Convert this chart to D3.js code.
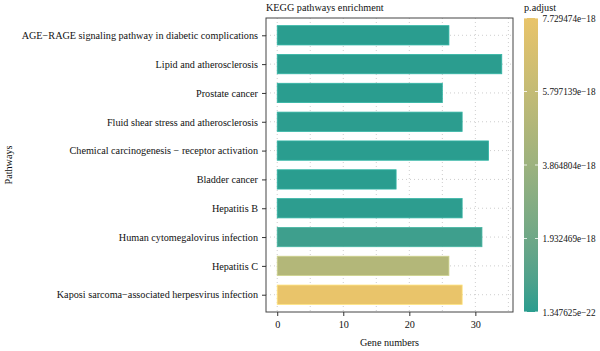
<!DOCTYPE html>
<html>

<head>
    <meta charset=utf-8 />
    <script src="https://cdn.jsdelivr.net/npm/d3@7"></script>
    <title>KEGG pathways enrichment</title>
    <style>
        html,
        body {
            margin: 0;
            background: #fff;
        }

        svg,
        svg text {
            font-family: "Liberation Serif", "Times New Roman", Times, serif;
        }
    </style>
</head>

<body>
    <div id="chart"></div>
    <script>
        var pathways = [
            'AGE\u2212RAGE signaling pathway in diabetic complications',
            'Lipid and atherosclerosis',
            'Prostate cancer',
            'Fluid shear stress and atherosclerosis',
            'Chemical carcinogenesis \u2212 receptor activation',
            'Bladder cancer',
            'Hepatitis B',
            'Human cytomegalovirus infection',
            'Hepatitis C',
            'Kaposi sarcoma\u2212associated herpesvirus infection'
        ];
        var geneCounts = [26, 34, 25, 28, 32, 18, 28, 31, 26, 28];
        var pAdjust = [1.4e-22, 2.0e-20, 8.0e-21, 3.0e-20, 1.347625e-22, 5.0e-21, 6.0e-20, 4.0e-19, 5.0e-18, 7.729474e-18];
        var xTicks = [0, 10, 20, 30];
        var xMinor = [5, 15, 25, 35];
        var legendTicks = [1.347625e-22, 1.932469e-18, 3.864804e-18, 5.797139e-18, 7.729474e-18];
        var legendLabels = ['1.347625e\u221222', '1.932469e\u221218', '3.864804e\u221218', '5.797139e\u221218', '7.729474e\u221218'];

        var W = 600, H = 351;
        var panel = { left: 266, right: 513, top: 18, bottom: 312 };
        var fs = '10.2px';
        var ink = '#111';

        var svg = d3.select('#chart').append('svg')
            .attr('width', W)
            .attr('height', H);

        var maxCount = d3.max(geneCounts);
        var pad = maxCount * 0.05;
        var x = d3.scaleLinear()
            .domain([-pad, maxCount + pad])
            .range([panel.left, panel.right]);

        var y = d3.scalePoint()
            .domain(pathways)
            .range([panel.top, panel.bottom])
            .padding(0.6);
        var step = y.step();
        var barH = step * 0.67;

        var color = d3.scaleLinear()
            .domain(d3.extent(pAdjust))
            .range(['#2a9d8f', '#e9c46a'])
            .interpolate(d3.interpolateLab);

        // grid
        var grid = svg.append('g');
        grid.selectAll('.vgrid')
            .data(xTicks.concat(xMinor))
            .enter().append('line')
            .attr('x1', d => x(d)).attr('x2', d => x(d))
            .attr('y1', panel.top).attr('y2', panel.bottom)
            .attr('stroke', '#b8b8b8')
            .attr('stroke-width', 0.7)
            .attr('stroke-dasharray', '1,3');
        grid.selectAll('.hgrid')
            .data(pathways)
            .enter().append('line')
            .attr('x1', panel.left).attr('x2', panel.right)
            .attr('y1', d => y(d)).attr('y2', d => y(d))
            .attr('stroke', '#b8b8b8')
            .attr('stroke-width', 0.7)
            .attr('stroke-dasharray', '1,3');

        // bars
        svg.append('g').selectAll('rect')
            .data(pathways)
            .enter().append('rect')
            .attr('x', x(0))
            .attr('y', d => y(d) - barH / 2)
            .attr('width', (d, i) => x(geneCounts[i]) - x(0))
            .attr('height', barH)
            .attr('fill', (d, i) => color(pAdjust[i]))
            .attr('stroke', (d, i) => d3.color(color(pAdjust[i])).brighter(0.4))
            .attr('stroke-width', 0.8);

        // panel border
        svg.append('rect')
            .attr('x', panel.left).attr('y', panel.top)
            .attr('width', panel.right - panel.left)
            .attr('height', panel.bottom - panel.top)
            .attr('fill', 'none')
            .attr('stroke', '#444')
            .attr('stroke-width', 1);

        // axes
        var axisX = svg.append('g')
            .attr('transform', `translate(0, ${panel.bottom})`)
            .call(d3.axisBottom(x).tickValues(xTicks).tickSize(4).tickPadding(5));
        var axisY = svg.append('g')
            .attr('transform', `translate(${panel.left}, 0)`)
            .call(d3.axisLeft(y).tickSize(4).tickPadding(4));
        customAxis(axisX);
        customAxis(axisY);

        function customAxis(axis) {
            axis.attr('font-family', null).attr('font-size', null);
            axis.select('.domain').remove();
            axis.selectAll('line').attr('stroke', '#333');
            axis.selectAll('text')
                .attr('fill', ink)
                .style('font-size', fs);
        }

        // titles
        svg.append('text')
            .attr('x', panel.left).attr('y', 11)
            .style('font-size', fs).attr('fill', ink)
            .text('KEGG pathways enrichment');
        svg.append('text')
            .attr('x', (panel.left + panel.right) / 2).attr('y', 346)
            .attr('text-anchor', 'middle')
            .style('font-size', fs).attr('fill', ink)
            .text('Gene numbers');
        svg.append('text')
            .attr('transform', `translate(12, ${(panel.top + panel.bottom) / 2}) rotate(-90)`)
            .attr('text-anchor', 'middle')
            .style('font-size', fs).attr('fill', ink)
            .text('Pathways');

        // colour bar legend
        var lg = { x: 524, w: 14, top: 18, bottom: 312 };
        var ly = d3.scaleLinear()
            .domain(d3.extent(pAdjust))
            .range([lg.bottom, lg.top]);
        var defs = svg.append('defs');
        var grad = defs.append('linearGradient')
            .attr('id', 'pgrad')
            .attr('x1', 0).attr('y1', 1).attr('x2', 0).attr('y2', 0);
        d3.range(0, 1.0001, 0.1).forEach(function (t) {
            grad.append('stop').attr('offset', t)
                .attr('stop-color', color(ly.invert(lg.bottom - t * (lg.bottom - lg.top))));
        });
        svg.append('rect')
            .attr('x', lg.x).attr('y', lg.top)
            .attr('width', lg.w).attr('height', lg.bottom - lg.top)
            .attr('fill', 'url(#pgrad)');
        var lt = svg.append('g').selectAll('g')
            .data(legendTicks)
            .enter().append('g');
        lt.append('line')
            .attr('x1', lg.x).attr('x2', lg.x + 3)
            .attr('y1', d => ly(d)).attr('y2', d => ly(d))
            .attr('stroke', '#fff').attr('stroke-width', 0.8);
        lt.append('line')
            .attr('x1', lg.x + lg.w - 3).attr('x2', lg.x + lg.w)
            .attr('y1', d => ly(d)).attr('y2', d => ly(d))
            .attr('stroke', '#fff').attr('stroke-width', 0.8);
        lt.append('text')
            .attr('x', lg.x + lg.w + 4.5)
            .attr('y', d => ly(d))
            .attr('dy', '0.35em')
            .attr('textLength', 53)
            .attr('lengthAdjust', 'spacingAndGlyphs')
            .style('font-size', '10px').attr('fill', ink)
            .text((d, i) => legendLabels[i]);
        svg.append('text')
            .attr('x', lg.x).attr('y', 11)
            .style('font-size', fs).attr('fill', ink)
            .text('p.adjust');
    </script>
</body>

</html>
